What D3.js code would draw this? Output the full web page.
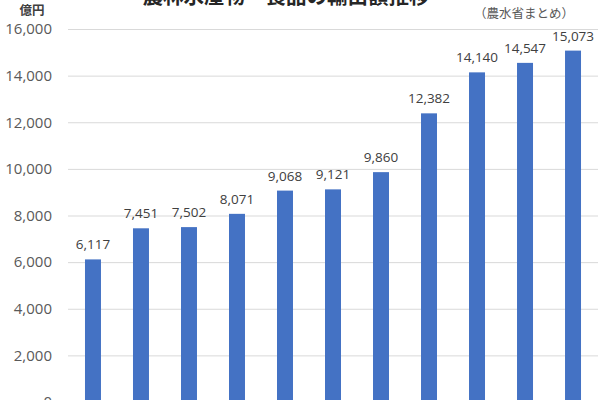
<!DOCTYPE html>
<html>
<head>
<meta charset="utf-8">
<script src="https://cdn.jsdelivr.net/npm/d3@7"></script>
<style>
  body { margin: 0; background: #fff; }
  text { font-family: "Noto Sans CJK JP", "Noto Sans", sans-serif; }
</style>
</head>
<body>
<script>
// data
let years = ['2014', '2015', '2016', '2017', '2018', '2019', '2020', '2021', '2022', '2023', '2024'];
let exportValues = [6117, 7451, 7502, 8071, 9068, 9121, 9860, 12382, 14140, 14547, 15073];
let yTicks = [0, 2000, 4000, 6000, 8000, 10000, 12000, 14000, 16000];

let chartWidth = 600, chartHeight = 400;
let barColor = '#4472C4';

let svg = d3.select('body').append('svg')
    .attr('width', chartWidth)
    .attr('height', chartHeight);

let xScale = d3.scaleBand()
    .domain(years)
    .range([69, 597])
    .paddingInner(0.667)
    .paddingOuter(0.333);

let yScale = d3.scaleLinear()
    .domain([0, 16000])
    .range([402, 29]);

// gridlines + y labels
let yAxis = svg.append('g')
    .attr('transform', 'translate(68,0)')
    .call(d3.axisLeft(yScale).tickValues(yTicks).tickSize(-530).tickPadding(16)
        .tickFormat(d3.format(',')));
yAxis.select('.domain').remove();
yAxis.selectAll('.tick line').attr('stroke', '#d9d9d9').attr('stroke-width', 1);
yAxis.selectAll('.tick text')
    .attr('fill', '#595959')
    .style('font-size', '15px')
    .style('font-family', '"Open Sans", "Noto Sans", sans-serif');

// bars
svg.selectAll('.bar')
    .data(exportValues)
    .enter().append('rect')
    .attr('class', 'bar')
    .attr('x', (d, i) => xScale(years[i]))
    .attr('width', xScale.bandwidth())
    .attr('y', d => yScale(d))
    .attr('height', d => yScale(0) - yScale(d))
    .attr('fill', barColor);

// value labels
svg.selectAll('.val')
    .data(exportValues)
    .enter().append('text')
    .attr('class', 'val')
    .attr('x', (d, i) => xScale(years[i]) + xScale.bandwidth() / 2)
    .attr('y', d => yScale(d) - 10)
    .attr('text-anchor', 'middle')
    .attr('fill', '#404040')
    .style('font-size', '13.5px')
    .style('font-family', '"Open Sans", "Noto Sans", sans-serif')
    .text(d => d3.format(',')(d));

// x labels (fall below the visible area like the reference)
svg.selectAll('.xl')
    .data(years)
    .enter().append('text')
    .attr('class', 'xl')
    .attr('x', d => xScale(d) + xScale.bandwidth() / 2)
    .attr('y', 425)
    .attr('text-anchor', 'middle')
    .attr('fill', '#595959')
    .style('font-size', '13px')
    .text(d => d);

// unit
svg.append('text')
    .attr('x', 32)
    .attr('y', 15)
    .attr('text-anchor', 'middle')
    .attr('fill', '#404040')
    .style('font-size', '12.5px')
    .style('font-weight', 'bold')
    .text('億円');

// title (cut off at top)
svg.append('text')
    .attr('x', 286)
    .attr('y', 4)
    .attr('text-anchor', 'middle')
    .attr('fill', '#262626')
    .style('font-size', '20.5px')
    .style('font-weight', 'bold')
    .text('農林水産物・食品の輸出額推移');

svg.append('text')
    .attr('x', 524)
    .attr('y', 18)
    .attr('text-anchor', 'middle')
    .attr('fill', '#595959')
    .style('font-size', '12.5px')
    .text('（農水省まとめ）');
</script>
</body>
</html>
